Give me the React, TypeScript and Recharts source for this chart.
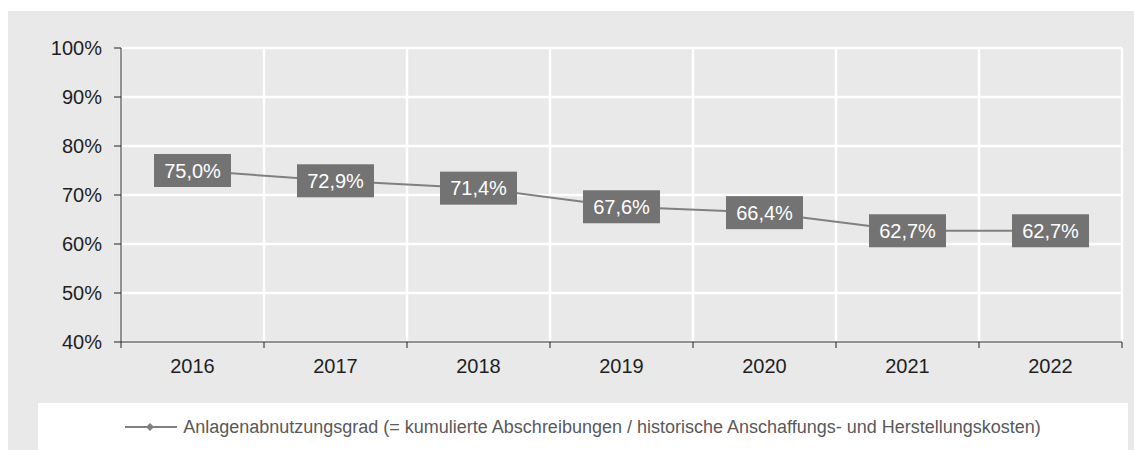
import { LineChart, Line, XAxis, YAxis, CartesianGrid, LabelList } from "recharts";

const years = ["2016", "2017", "2018", "2019", "2020", "2021", "2022"];
const wearRatio = [75.0, 72.9, 71.4, 67.6, 66.4, 62.7, 62.7];
const yTicks = [40, 50, 60, 70, 80, 90, 100];
const xBounds = [0, 1, 2, 3, 4, 5, 6, 7];

const SERIES_NAME =
  "Anlagenabnutzungsgrad (= kumulierte Abschreibungen / historische Anschaffungs- und Herstellungskosten)";

const FONT = "'Liberation Sans', Arial, sans-serif";

// points sit in the middle of each year slot, ticks on the slot borders
const data = years.map((year, i) => ({ year, pos: i + 0.5, value: wearRatio[i] }));

const fmt = (v: number) => v.toFixed(1).replace(".", ",") + "%";

const YearTick = ({ x, y, index }: any) => {
  const step = 1001 / 7;
  const label = years[index];
  return (
    <g>
      <line x1={x} x2={x} y1={y - 8} y2={y - 2} stroke="#222" strokeWidth={1} />
      {label && (
        <text
          x={x + step / 2}
          y={y + 23}
          textAnchor="middle"
          fontFamily={FONT}
          fontSize={20}
          fill="#1f1f1f"
        >
          {label}
        </text>
      )}
    </g>
  );
};

const ValueBox = ({ x, y, value }: any) => {
  const w = 77;
  const h = 33;
  return (
    <g>
      <rect x={x - w / 2} y={y - h / 2} width={w} height={h} fill="#737373" />
      <text
        x={x}
        y={y + 7}
        textAnchor="middle"
        fontFamily={FONT}
        fontSize={20}
        fill="#ffffff"
      >
        {fmt(value)}
      </text>
    </g>
  );
};

export default function App() {
  return (
    <div
      style={{
        position: "absolute",
        left: 8,
        top: 11,
        width: 1126,
        height: 440,
        background: "#e9e9e9",
        fontFamily: FONT,
      }}
    >
      <LineChart
        width={1126}
        height={395}
        data={data}
        margin={{ top: 37, right: 12, left: 0, bottom: 34 }}
      >
        <CartesianGrid stroke="#ffffff" strokeWidth={2.5} />
        <XAxis
          dataKey="pos"
          type="number"
          domain={[0, 7]}
          ticks={xBounds}
          interval={0}
          height={30}
          axisLine={{ stroke: "#222", strokeWidth: 1 }}
          tickLine={false}
          tick={<YearTick />}
        />
        <YAxis
          type="number"
          domain={[40, 100]}
          ticks={yTicks}
          interval={0}
          width={113}
          tickFormatter={(v: number) => `${v}%`}
          axisLine={{ stroke: "#222", strokeWidth: 1 }}
          tickLine={{ stroke: "#222" }}
          tickSize={7}
          tickMargin={12}
          tick={{ fontSize: 20, fill: "#1f1f1f", fontFamily: FONT }}
        />
        <Line
          dataKey="value"
          stroke="#808080"
          strokeWidth={2}
          dot={false}
          isAnimationActive={false}
        >
          <LabelList dataKey="value" content={<ValueBox />} />
        </Line>
      </LineChart>
      <div
        style={{
          position: "absolute",
          left: 30,
          top: 392,
          width: 1090,
          height: 48,
          background: "#ffffff",
          display: "flex",
          alignItems: "center",
          justifyContent: "center",
        }}
      >
        <svg width={54} height={12} style={{ marginRight: 4 }}>
          <line x1={0} x2={52} y1={6} y2={6} stroke="#808080" strokeWidth={2} />
          <path d="M25 2 L29 6 L25 10 L21 6 Z" fill="#808080" />
        </svg>
        <span style={{ fontSize: 18, color: "#595959" }}>{SERIES_NAME}</span>
      </div>
    </div>
  );
}
